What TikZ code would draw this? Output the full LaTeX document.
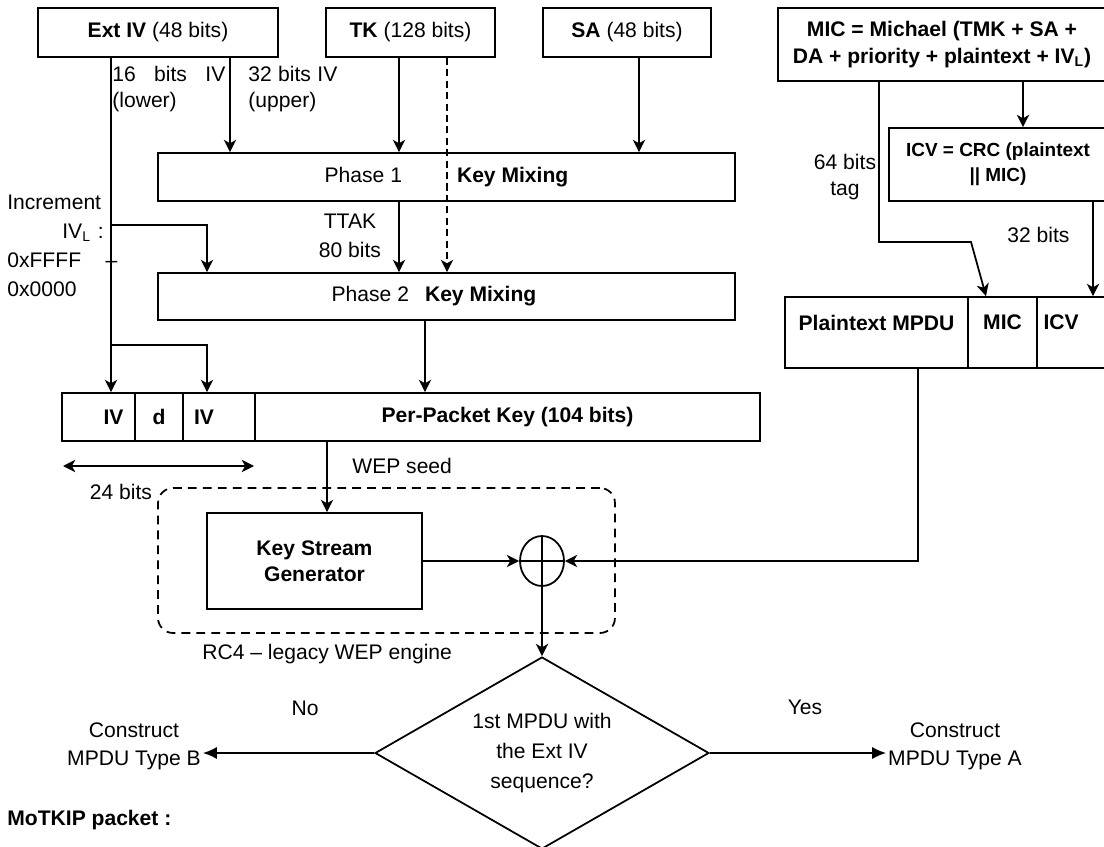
\documentclass[tikz,border=0pt]{standalone}
\usepackage{fontspec}
\setmainfont{Liberation Sans}
\usetikzlibrary{arrows.meta,shapes.geometric,positioning,calc}

\begin{document}
\begin{tikzpicture}[
    x=0.02cm, y=-0.02cm,
    font=\fontsize{12}{15}\selectfont,
    box/.style={rectangle, draw, line width=1pt, minimum height=0.96cm, align=center, inner sep=1pt},
    lbl/.style={inner sep=0pt, align=left},
    arrow/.style={-{Stealth[length=7pt,width=7pt,inset=2pt]}, line width=1pt},
    dbl/.style={{Stealth[length=7pt,width=7pt,inset=2pt]}-{Stealth[length=7pt,width=7pt,inset=2pt]}, line width=1pt},
    tri/.style={-{Latex[length=8pt,width=7pt]}, line width=1pt}
]
\useasboundingbox (0,0) rectangle (1104,847);

% key inputs
\node[box, minimum width=4.8cm, minimum height=0.98cm] (extiv) at (158,32.5) {\textbf{Ext IV} (48 bits)};
\node[box, minimum width=3.38cm, minimum height=0.98cm] (tk) at (410.5,32.5) {\textbf{TK} (128 bits)};
\node[box, minimum width=3.36cm, minimum height=0.98cm] (sa) at (627,32.5) {\textbf{SA} (48 bits)};
\node[box, minimum width=6.56cm, minimum height=1.46cm] (mic) at (942,44.5) {\textbf{MIC = Michael (TMK + SA +}\\\textbf{DA + priority + plaintext + IV\textsubscript{L})}};

% key mixing
\node[box, minimum width=11.54cm] (phase1) at (446.5,177) {Phase 1\hspace{1.1cm}\textbf{Key Mixing}};
\node[box, minimum width=11.54cm, minimum height=0.94cm] (phase2) at (446.5,296.5) {Phase 2\hspace{0.32cm}\textbf{Key Mixing}\hspace{0.5cm}};

% per-packet key
\node[box, minimum width=1.46cm, text width=1.0cm, align=right] (ivlo) at (98.5,417) {\textbf{IV}};
\node[box, minimum width=0.96cm] (ivd) at (159,417) {\textbf{d}};
\node[box, minimum width=1.44cm, text width=1.0cm, align=left] (ivhi) at (219,417) {\textbf{IV}};
\node[box, minimum width=10.1cm] (ppk) at (507.5,417) {\textbf{Per-Packet Key (104 bits)}};

% RC4 engine
\node[draw, line width=1pt, dash pattern=on 5pt off 3.5pt, rounded corners=0.3cm, minimum width=9.14cm, minimum height=2.9cm] (rc4) at (386.5,560.5) {};
\node[box, minimum width=4.3cm, minimum height=1.92cm] (ksg) at (314.5,561) {\textbf{Key Stream}\\\textbf{Generator}};
\node[draw, ellipse, line width=1pt, minimum width=0.88cm, minimum height=1cm, inner sep=0pt,
      path picture={\draw[line width=1pt] (path picture bounding box.north) -- (path picture bounding box.south)
                     (path picture bounding box.west) -- (path picture bounding box.east);}] (xor) at (542,561) {};

% MIC and ICV
\node[box, minimum width=4.36cm, minimum height=1.46cm, font=\fontsize{10.8}{14}\selectfont] (icv) at (998,164.5) {\textbf{ICV = CRC (plaintext}\\\textbf{|| MIC)}};
\node[box, minimum width=3.66cm, minimum height=1.42cm, text depth=0.4cm] (pmpdu) at (876.5,332.5) {\textbf{Plaintext MPDU}};
\node[box, minimum width=1.38cm, minimum height=1.42cm, text depth=0.4cm] (miccell) at (1002.5,332.5) {\textbf{MIC}};
\node[box, minimum width=1.46cm, minimum height=1.42cm, text depth=0.4cm, text width=1.2cm, align=left] (icvcell) at (1073.5,332.5) {\textbf{ICV}};

% decision
\node[draw, diamond, aspect=1.74, line width=1pt, minimum width=6.68cm, minimum height=3.84cm, inner sep=0pt, align=center, font=\fontsize{12}{17}\selectfont] (dec) at (542,753) {1st MPDU with\\the Ext IV\\sequence?};

% labels
\node[lbl, anchor=west, font=\fontsize{12}{15.3}\selectfont] (lowerlbl) at (112,89) {\makebox[2.26cm][s]{16 bits IV}\\(lower)};
\node[lbl, anchor=west, font=\fontsize{12}{15.3}\selectfont] (upperlbl) at (248,89) {\makebox[1.78cm][s]{32 bits IV}\\(upper)};
\node[lbl, anchor=west, text width=2.2cm, font=\fontsize{12}{16.5}\selectfont] (incrlbl) at (7,246) {Increment\\\hspace*{1.1cm}IV\textsubscript{L} :\\0xFFFF\hfill –\\0x0000};
\node[lbl, align=center, font=\fontsize{12}{16.5}\selectfont] (ttaklbl) at (350,236) {TTAK\\80 bits};
\node[lbl, align=center, font=\fontsize{12}{15.3}\selectfont] (taglbl) at (845,177) {64 bits\\tag};
\node[lbl, anchor=west] (icvbits) at (1007,235) {32 bits};
\node[lbl, anchor=west] (seedlbl) at (352,466) {WEP seed};
\node[lbl] (bitslbl) at (121,492) {24 bits};
\node[lbl, anchor=west] (rc4lbl) at (202,654) {RC4 – legacy WEP engine};
\node[lbl] (nolbl) at (305,708) {No};
\node[lbl] (yeslbl) at (805,707) {Yes};
\node[lbl, align=center, inner sep=1pt, font=\fontsize{12}{16}\selectfont] (typeb) at (134,746) {Construct\\MPDU Type B};
\node[lbl, align=center, inner sep=1pt, font=\fontsize{12}{16}\selectfont] (typea) at (955,746) {Construct\\MPDU Type A};
\node[lbl, anchor=west] (motkip) at (7,820) {\textbf{MoTKIP packet :}};

% IV taps
\coordinate (tap1) at (111,225);
\coordinate (tap2) at (111,345);
\coordinate (spanl) at (63,466);
\coordinate (spanr) at (254,466);

% connectors
\draw[arrow] (111,0 |- extiv.south) -- (111,0 |- ivlo.north);
\draw[arrow] (tap1) -| (207,0 |- phase2.north);
\draw[arrow] (tap2) -| (207,0 |- ivhi.north);
\draw[arrow] (230,0 |- extiv.south) -- (230,0 |- phase1.north);
\draw[arrow] (399,0 |- tk.south) -- (399,0 |- phase1.north);
\draw[arrow, dash pattern=on 4pt off 2.5pt] (447,0 |- tk.south) -- (447,0 |- phase2.north);
\draw[arrow] (639,0 |- sa.south) -- (639,0 |- phase1.north);
\draw[arrow] (399,0 |- phase1.south) -- (399,0 |- phase2.north);
\draw[arrow] (425,0 |- phase2.south) -- (425,0 |- ppk.north);
\draw[arrow] (327,0 |- ppk.south) -- (327,0 |- ksg.north);
\draw[dbl] (spanl) -- (spanr);
\draw[arrow] (ksg.east) -- (xor.west);
\draw[arrow] (918,0 |- pmpdu.south) |- (xor.east);
\draw[arrow] (xor.south) -- (dec.north);
\draw[tri] (dec.west) -- (dec.west -| typeb.east);
\draw[tri] (dec.east) -- (dec.east -| typea.west);
\draw[arrow] (879,0 |- mic.south) |- (971,242) -- (986,0 |- miccell.north);
\draw[arrow] (1023,0 |- mic.south) -- (1023,0 |- icv.north);
\draw[arrow] (1093,0 |- icv.south) -- (1093,0 |- icvcell.north);

\end{tikzpicture}
\end{document}
